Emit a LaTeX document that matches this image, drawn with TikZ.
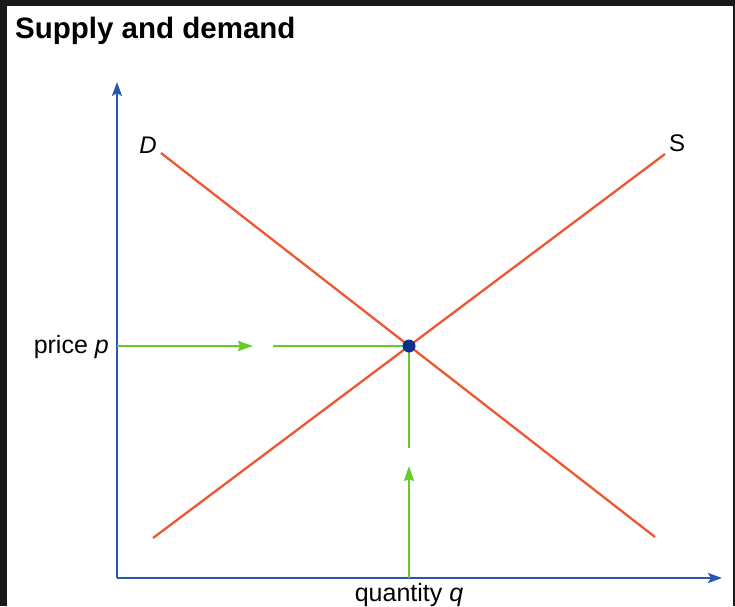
\documentclass[tikz,border=0pt]{standalone}
\usepackage{fontspec}
\setmainfont{Liberation Sans}
\usetikzlibrary{arrows.meta}

\definecolor{axisblue}{RGB}{38,88,176}
\definecolor{curvered}{RGB}{238,88,48}
\definecolor{flowgreen}{RGB}{104,204,40}
\definecolor{dotblue}{RGB}{10,50,140}

\tikzset{
	axis/.style={axisblue,line width=2.5pt,-{Stealth[length=14pt,width=10pt,inset=3pt]}},
	curve/.style={curvered,line width=2.3pt},
	flow/.style={flowgreen,line width=2.2pt},
	flowtip/.style={flow,-{Stealth[length=15pt,width=10pt,inset=2pt]}},
	lbl/.style={font=\fontsize{25}{27}\selectfont,inner sep=0pt}
}

\begin{document}
\begin{tikzpicture}[x=1pt,y=-1pt]
	% frame
	\fill[black!90] (0,0) rectangle (735,606);
	\fill[white] (7,6) rectangle (733,606);
	\useasboundingbox (0,0) rectangle (735,606);
	\node[anchor=base west,inner sep=0pt,font=\fontsize{29.5}{31}\selectfont\bfseries] (title) at (15,38) {Supply and demand};
	\coordinate (O) at (117,578);
	\coordinate (Ytip) at (117,82);
	\coordinate (Xtip) at (722,578);
	\coordinate (D1) at (161,153);
	\coordinate (D2) at (655,537);
	\coordinate (S1) at (153,538);
	\coordinate (S2) at (665,154);
	\coordinate (Py) at (117,346);
	\coordinate (Pa) at (253,346);
	\coordinate (Pb) at (273,346);
	\coordinate (Qx) at (409,578);
	\coordinate (Qa) at (409,466);
	\coordinate (Qb) at (409,448);
	% axes
	\draw[axis] (O) -- (Ytip);
	\draw[axis] (O) -- (Xtip);
	% demand and supply
	\draw[curve] (D1) -- (D2);
	\draw[curve] (S1) -- (S2);
	\node[lbl,font=\fontsize{24}{26}\selectfont\itshape] (Dlab) at (148,145) {D};
	\node[lbl,font=\fontsize{24}{26}\selectfont] (Slab) at (677,143) {S};
	% equilibrium
	\draw[flowtip] (Py) -- (Pa);
	\draw[flow] (Pb) -- (409,346);
	\draw[flowtip] (Qx) -- (Qa);
	\draw[flow] (Qb) -- (409,346);
	\node[circle,fill=dotblue,inner sep=0pt,minimum size=13pt] (E) at (409,346) {};
	\node[lbl,anchor=base east] (plab) at (109,353) {price \textit{p}};
	\node[lbl,anchor=base] (qlab) at (409,601) {quantity \textit{q}};
\end{tikzpicture}
\end{document}
